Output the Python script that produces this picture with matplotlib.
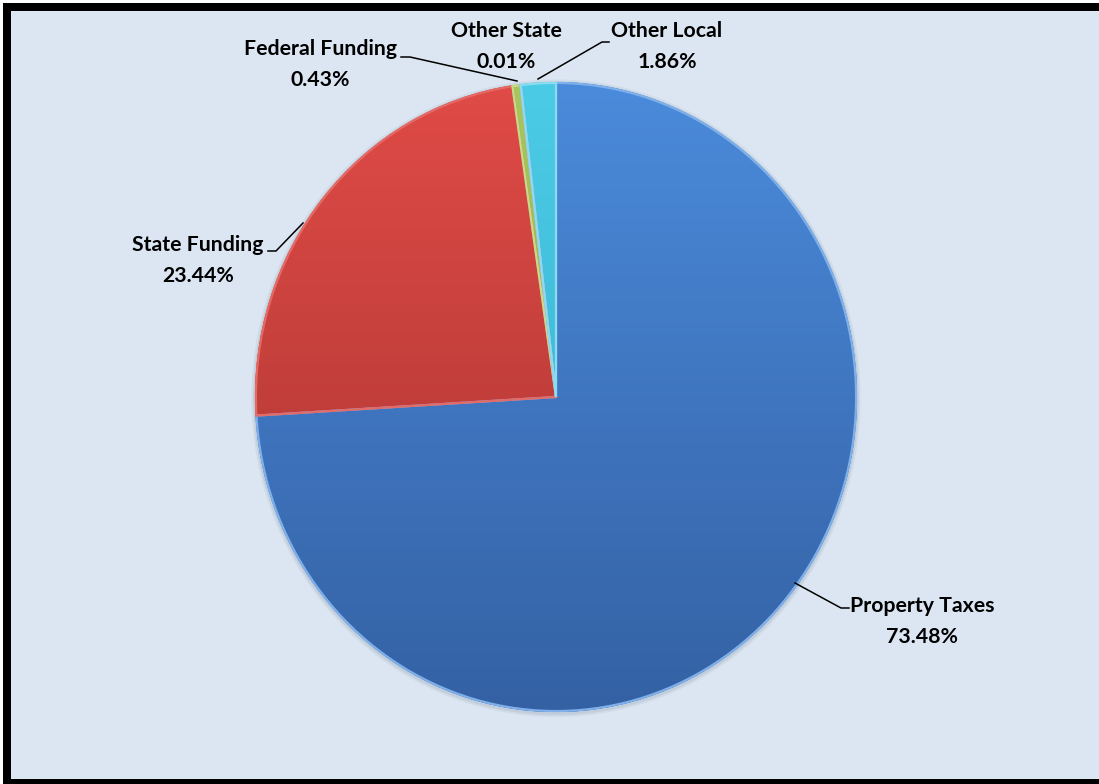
import numpy as np
import matplotlib.pyplot as plt
from matplotlib.patches import Rectangle, Wedge
from matplotlib.colors import LinearSegmentedColormap

plt.rcParams['font.family'] = ['Lato', 'DejaVu Sans']

# data
categories = ["Property Taxes", "State Funding", "Federal Funding", "Other State", "Other Local"]
shares = [73.48, 23.44, 0.43, 0.01, 1.86]
top_colors = ["#4b8bdb", "#e04b47", "#a6c65e", "#8a6fb0", "#4ccbe6"]
bottom_colors = ["#3461a4", "#a4322e", "#86a63c", "#6c5390", "#31abca"]
edge_colors = ["#7fb0ea", "#e46a66", "#c4dc88", "#b9a6d6", "#8adcf0"]

# layout (pixels in the 1099x784 figure)
W, H = 1099, 784
CX, CY, RX, RY = 556, 397, 301, 315


def px(x, y):
    return (x - CX) / RX, (CY - y) / RY


label_pos = {
    "Property Taxes": (922, 606),
    "State Funding": (198, 245),
    "Federal Funding": (320, 49),
    "Other State": (506, 31),
    "Other Local": (667, 31),
}
leaders = {
    "Property Taxes": [(795, 583), (841, 608), (849, 608)],
    "State Funding": [(303, 223), (276, 251), (268, 251)],
    "Federal Funding": [(517, 81), (410, 57), (401, 57)],
    "Other Local": [(538, 79), (602, 42), (609, 42)],
}

fig = plt.figure(figsize=(W / 100, H / 100), dpi=100, facecolor="white")
# frame: black border on top, left and bottom
fig.patches.append(Rectangle((3 / W, 0), 1, 1 - 3 / H, transform=fig.transFigure,
                             facecolor="black", edgecolor="none", zorder=-2))
fig.patches.append(Rectangle((11 / W, 5 / H), 1, 1 - 16 / H, transform=fig.transFigure,
                             facecolor="#dce6f2", edgecolor="none", zorder=-1))

ax = fig.add_axes([0, 0, 1, 1])
ax.patch.set_alpha(0)

wedges, _ = ax.pie(shares, startangle=90, counterclock=False, radius=1,
                   colors=top_colors,
                   wedgeprops=dict(edgecolor="none"))

# soft shadow behind the pie
for k, a in zip([1.012, 1.006], [0.08, 0.12]):
    ax.add_patch(Wedge((0.0, -0.004), k, 0, 360, facecolor="#5a6a80",
                       edgecolor="none", alpha=a, zorder=0))

grad = np.linspace(0, 1, 256).reshape(-1, 1)
for w, c1, c2, ec in zip(wedges, top_colors, bottom_colors, edge_colors):
    cmap = LinearSegmentedColormap.from_list("g", [c1, c2])
    im = ax.imshow(grad, extent=(-1, 1, -1, 1), origin="upper", cmap=cmap,
                   aspect="auto", zorder=2, interpolation="bilinear")
    im.set_clip_path(w)
    w.set_zorder(1)
    # bevel highlight along the slice outline
    ax.add_patch(Wedge(w.center, w.r * 0.997, w.theta1, w.theta2, fill=False,
                       edgecolor=ec, linewidth=1.6, zorder=3))

for name, pct in zip(categories, shares):
    x, y = label_pos[name]
    tx, ty = px(x, y)
    ax.text(tx, ty, name, ha="center", va="center", fontsize=15.3,
            fontweight="bold", color="black", zorder=5)
    tx, ty = px(x, y + 31)
    ax.text(tx, ty, f"{pct:.2f}%", ha="center", va="center", fontsize=15.3,
            fontweight="bold", color="black", zorder=5)
    if name in leaders:
        pts = np.array([px(a, b) for a, b in leaders[name]])
        ax.plot(pts[:, 0], pts[:, 1], color="black", linewidth=1.1, zorder=4)

ax.set_aspect("auto")
ax.set_xlim(-CX / RX, (W - CX) / RX)
ax.set_ylim((CY - H) / RY, CY / RY)
ax.axis("off")

fig.savefig("out.png", dpi=100, facecolor="white")
